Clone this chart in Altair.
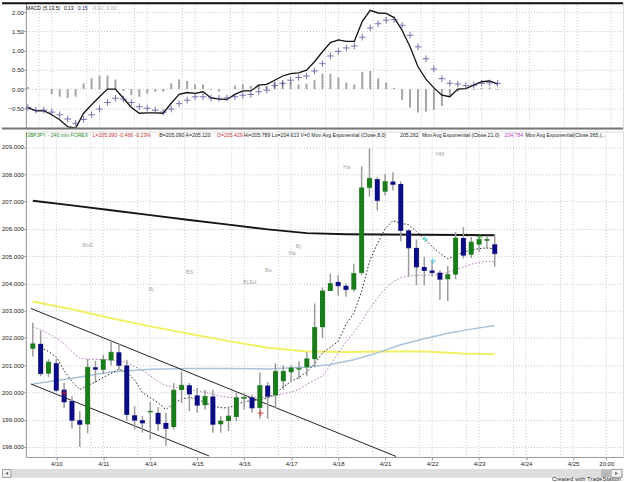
import altair as alt
import pandas as pd

FONT = "Liberation Sans"
GREEN = "#1c7c1c"
BLUE = "#0b0b82"

# ---------------- price bars (240 min, one entry per bar) ----------------
opens = [201.60, 201.78, 200.69, 201.07, 200.10, 199.68, 198.98, 198.83, 200.92, 200.83,
         201.17, 201.47, 200.99, 199.16, 198.98, 199.27, 199.25, 198.88, 198.73, 200.09,
         200.26, 199.89, 199.53, 199.85, 198.83, 198.95, 199.10, 199.77, 199.82, 199.43,
         200.25, 199.89, 200.41, 200.74, 200.84, 200.92, 201.22, 202.39, 203.72, 204.05,
         203.91, 203.77, 204.38, 207.50, 207.82, 207.36, 207.73, 207.64, 205.94, 205.30,
         204.60, 204.47, 204.39, 204.15, 204.32, 205.66, 205.05, 205.42, 205.56, 205.43]
highs = [202.55, 202.27, 201.22, 201.22, 200.34, 199.86, 199.31, 201.22, 201.16, 201.38,
         201.87, 201.78, 201.20, 199.49, 199.13, 199.65, 199.46, 199.25, 200.34, 200.77,
         200.34, 200.16, 200.10, 200.10, 199.13, 199.49, 199.98, 199.98, 199.92, 200.73,
         200.38, 201.07, 200.99, 200.99, 201.14, 201.47, 203.26, 203.85, 204.36, 204.30,
         203.99, 204.72, 208.29, 208.95, 207.89, 208.01, 208.07, 207.73, 205.98, 205.61,
         204.97, 204.81, 204.48, 204.64, 205.88, 206.06, 205.70, 205.73, 205.73, 205.79]
lows = [201.32, 200.59, 200.56, 200.00, 199.43, 198.68, 198.00, 198.50, 200.34, 200.67,
        200.99, 200.80, 198.97, 198.64, 198.52, 198.28, 198.58, 198.03, 198.64, 199.61,
        199.31, 199.25, 199.37, 198.52, 198.52, 198.58, 198.94, 199.37, 199.25, 199.04,
        199.03, 199.43, 200.10, 200.41, 200.50, 200.59, 200.92, 201.99, 203.72, 203.54,
        203.51, 203.69, 204.30, 207.18, 206.67, 207.22, 207.40, 205.54, 204.24, 203.93,
        203.93, 204.24, 203.39, 203.35, 204.15, 204.91, 204.93, 205.15, 205.25, 204.61]
closes = [201.78, 200.69, 201.11, 200.08, 199.65, 198.98, 198.83, 200.92, 200.85, 201.20,
          201.47, 200.99, 199.19, 198.98, 198.88, 199.31, 198.85, 198.68, 200.08, 200.26,
          199.94, 199.53, 199.85, 198.83, 198.95, 199.13, 199.80, 199.82, 199.43, 200.25,
          199.86, 200.77, 200.77, 200.89, 200.88, 201.23, 202.38, 203.72, 203.99, 203.91,
          203.77, 204.36, 207.50, 207.85, 207.04, 207.73, 207.63, 205.94, 205.30, 204.60,
          204.47, 204.39, 204.15, 204.32, 205.66, 205.03, 205.51, 205.61, 205.61, 205.09]

# Moving averages (read per bar)
ema8 = [None, 201.65, 201.5, 201.3, 200.8, 200.4, 200.1, 200.25, 200.38, 200.55,
        200.7, 200.85, 200.75, 200.45, 200.0, 199.8, 199.62, 199.37, 199.6, 199.75,
        199.82, 199.75, 199.63, 199.5, 199.44, 199.43, 199.55, 199.66, 199.70, 199.72,
        199.8, 199.95, 200.2, 200.41, 200.55, 200.75, 201.05, 201.45, 201.65, 201.87,
        202.5, 202.9, 203.7, 204.8, 205.45, 206.0, 206.3, 206.2, 206.15, 205.9,
        205.64, 205.35, 205.1, 204.9, 205.0, 205.15, 205.22, 205.27, 205.3, 205.26]
ema21 = [202.41, 202.3, 202.15, 202.0, 201.78, 201.5, 201.25, 201.22, 201.21, 201.2,
         201.2, 201.15, 201.1, 200.95, 200.8, 200.6, 200.4, 200.25, 200.2, 200.15,
         200.1, 200.05, 200.0, 199.93, 199.86, 199.82, 199.8, 199.8, 199.82, 199.82,
         199.82, 199.88, 199.95, 200.02, 200.12, 200.3, 200.45, 200.6, 201.0, 201.45,
         201.85, 202.2, 202.6, 203.05, 203.45, 203.8, 204.05, 204.2, 204.27, 204.3,
         204.3, 204.3, 204.33, 204.4, 204.5, 204.6, 204.7, 204.76, 204.8, 204.78]

long_idx = [0, 5, 10, 15, 20, 25, 30, 35, 40, 45, 50, 55, 59]
ma_black = [207.03, 206.86, 206.68, 206.5, 206.32, 206.15, 205.98, 205.84, 205.8, 205.79, 205.78, 205.77, 205.76]
ma_yellow = [203.33, 203.05, 202.72, 202.42, 202.15, 201.88, 201.64, 201.5, 201.48, 201.5, 201.5, 201.43, 201.4]
blue_idx = [0, 5, 10, 15, 20, 25, 30, 35, 38, 41, 44, 47, 50, 53, 56, 59]
ma_lightblue = [200.31, 200.52, 200.75, 200.85, 200.88, 200.88, 200.86, 200.93, 201.02, 201.2,
                201.45, 201.75, 201.97, 202.17, 202.32, 202.45]

# Channel trend lines
upper_idx = [-0.25, 46.4]
upper_px = [203.08, 197.65]
lower_idx = [-0.25, 22.5]
lower_px = [200.31, 197.67]

# MACD (5,13,5)
macd = [-0.485, -0.57, -0.56, -0.67, -0.80, -0.98, -1.02, -0.63, -0.41, -0.20,
        0.0, 0.0, -0.24, -0.48, -0.63, -0.62, -0.62, -0.63, -0.37, -0.14,
        -0.09, -0.11, -0.07, -0.23, -0.26, -0.27, -0.14, -0.05, -0.05, 0.10,
        0.12, 0.23, 0.34, 0.40, 0.42, 0.49, 0.71, 0.97, 1.21, 1.28,
        1.24, 1.24, 1.76, 2.05, 1.98, 1.97, 1.86, 1.53, 1.10, 0.58,
        0.26, 0.03, -0.16, -0.20, 0.0, 0.01, 0.10, 0.19, 0.21, 0.13]
signal = [-0.48, -0.55, -0.55, -0.60, -0.67, -0.78, -0.89, -0.79, -0.67, -0.52,
          -0.35, -0.24, -0.26, -0.35, -0.46, -0.50, -0.55, -0.60, -0.52, -0.38,
          -0.29, -0.20, -0.20, -0.23, -0.24, -0.23, -0.20, -0.16, -0.14, -0.07,
          -0.03, 0.09, 0.15, 0.23, 0.30, 0.34, 0.47, 0.66, 0.86, 0.98,
          1.07, 1.12, 1.35, 1.59, 1.70, 1.79, 1.81, 1.66, 1.40, 1.10,
          0.79, 0.52, 0.27, 0.15, 0.13, 0.09, 0.10, 0.15, 0.16, 0.15]
hist = [0.05, -0.01, 0.0, -0.13, -0.20, -0.23, -0.20, 0.15, 0.28, 0.35,
        0.35, 0.25, -0.05, -0.16, -0.20, -0.12, -0.07, -0.07, 0.15, 0.25,
        0.21, 0.12, 0.12, -0.02, -0.06, 0.0, 0.09, 0.12, 0.08, 0.12,
        0.08, 0.19, 0.20, 0.19, 0.12, 0.14, 0.23, 0.40, 0.40, 0.30,
        0.17, 0.12, 0.45, 0.47, 0.28, 0.17, 0.03, -0.28, -0.48, -0.61,
        -0.59, -0.54, -0.44, -0.20, -0.07, 0.0, -0.02, 0.03, 0.04, -0.02]

# Axis ticks
tick_idx = [3, 9, 15, 21, 27, 33, 39, 45, 51, 57, 63, 69, 73.25]
tick_labels = ["4/10", "4/11", "4/14", "4/15", "4/16", "4/17", "4/18", "4/21", "4/22",
               "4/23", "4/24", "4/25", "20:00"]
price_ticks = [198, 199, 200, 201, 202, 203, 204, 205, 206, 207, 208, 209]
macd_ticks = [-0.5, 0.0, 0.5, 1.0, 1.5, 2.0]

# News tags and markers on the price pane
tag_text = ["BoE", "Bj", "BS", "BLEd", "Bu", "Ha", "Bj", "Ha", "HM"]
tag_idx = [7, 15.1, 20, 27.7, 30.1, 33.1, 33.9, 40.1, 52]
tag_px = [205.40, 203.80, 204.42, 204.05, 204.49, 205.11, 205.37, 208.25, 208.73]
mark_idx = [4, 29.1, 50.1, 51.1, 57.1]
mark_px = [199.97, 199.24, 205.62, 204.82, 205.70]
mark_col = ["#d03030", "#d03030", "#40c8d8", "#40c8d8", "#30a030"]

# ---------------- data frames ----------------
n = len(closes)
bars = pd.DataFrame({"i": list(range(n)), "open": opens, "high": highs, "low": lows, "close": closes})
ema_df = pd.DataFrame({"i": list(range(n)), "ema8": ema8, "ema21": ema21})
long_df = pd.DataFrame({"i": long_idx, "black": ma_black, "yellow": ma_yellow})
lb_df = pd.DataFrame({"i": blue_idx, "v": ma_lightblue})
up_df = pd.DataFrame({"i": upper_idx, "p": upper_px})
lo_df = pd.DataFrame({"i": lower_idx, "p": lower_px})
macd_df = pd.DataFrame({"i": list(range(n)), "macd": macd, "signal": signal, "hist": hist, "zero": [0.0] * n})
grid_df = pd.DataFrame({"i": tick_idx + [t - 1.6 for t in tick_idx[:-1]]})
tag_df = pd.DataFrame({"i": tag_idx, "p": tag_px, "t": tag_text})
mk_df = pd.DataFrame({"i": mark_idx, "p": mark_px, "c": mark_col})
one = pd.DataFrame({"a": [0]})

label_expr = " : ".join(f"datum.value == {v} ? '{l}'" for v, l in zip(tick_idx, tick_labels)) + " : ''"

xs = alt.Scale(domain=[-0.25, 74.75], nice=False, zero=False)
x_axis_main = alt.Axis(values=tick_idx, labelExpr=label_expr, grid=False, title=None,
                       labelFontSize=6, labelFont=FONT, labelColor="#222", tickSize=3,
                       tickColor="#999", domainColor="#999", labelPadding=1, labelFlush=False)

AX = dict(title=None, labelFontSize=6.1, labelFont=FONT, labelColor="#222", tickSize=2,
          tickColor="#888", domainColor="#999", grid=True, gridDash=[1, 2], gridColor="#c4c4c4",
          labelPadding=0.5, minExtent=25, maxExtent=25)
ys_main = alt.Scale(domain=[197.632, 209.566], nice=False, zero=False)
y_axis_main = alt.Axis(values=price_ticks, format=".3f", **AX)
ys_macd = alt.Scale(domain=[-1.028, 2.262], nice=False, zero=False)
y_axis_macd = alt.Axis(values=macd_ticks, format=".2f", **AX)


def XM(f="i"):
    return alt.X(f"{f}:Q", scale=xs, axis=x_axis_main)


def XN(f="i"):
    return alt.X(f"{f}:Q", scale=xs, axis=None)


def YM(f):
    return alt.Y(f"{f}:Q", scale=ys_main, axis=y_axis_main)


def YC(f):
    return alt.Y(f"{f}:Q", scale=ys_macd, axis=y_axis_macd)


# ---------------- MACD pane ----------------
m_grid = alt.Chart(grid_df).mark_rule(color="#c8c8c8", strokeDash=[1, 2], strokeWidth=1).encode(x=XN())
m_hist = alt.Chart(macd_df).mark_rule(color="#a4a4a4", strokeWidth=2).encode(x=XN(), y=YC("zero"), y2="hist:Q")
m_line = alt.Chart(macd_df).mark_line(color="#111", strokeWidth=1.3, clip=True).encode(x=XN(), y=YC("macd"))
m_sig = alt.Chart(macd_df).mark_point(shape="M-1,0L1,0M0,-1L0,1", size=44, filled=False,
                                      strokeWidth=1, color="#3b3b8e", clip=True).encode(x=XN(), y=YC("signal"))
m_head_df = pd.DataFrame({"t": ["MACD (5,13,5)", "0.13", "0.15", "-0.02", "0.00"],
                          "px": [0, 38, 52, 66, 81],
                          "c": ["#111", "#111", "#22226e", "#aaaaaa", "#aaaaaa"]})
m_head = alt.Chart(m_head_df).mark_text(align="left", baseline="middle", fontSize=5.2, font=FONT).encode(
    x=alt.X("px:Q", scale=None), y=alt.value(6), text="t:N", color=alt.Color("c:N", scale=None))
m_top = alt.Chart(one).mark_rule(color="#111", strokeWidth=2).encode(
    x=alt.value(-24), x2=alt.value(600), y=alt.value(1))
m_sep = alt.Chart(one).mark_rule(color="#777", strokeWidth=2).encode(
    x=alt.value(-24), x2=alt.value(600), y=alt.value(127))

macd_chart = alt.layer(m_grid, m_hist, m_line, m_sig, m_head, m_top, m_sep).properties(width=600, height=127)

# ---------------- price pane ----------------
p_grid = alt.Chart(grid_df).mark_rule(color="#c8c8c8", strokeDash=[1, 2], strokeWidth=1).encode(x=XM())
p_black = alt.Chart(long_df).mark_line(color="#151515", strokeWidth=1.9).encode(x=XM(), y=YM("black"))
p_yellow = alt.Chart(long_df).mark_line(color="#f2f064", strokeWidth=2).encode(x=XM(), y=YM("yellow"))
p_lblue = alt.Chart(lb_df).mark_line(color="#a9c3da", strokeWidth=1.5).encode(x=XM(), y=YM("v"))
p_up = alt.Chart(up_df).mark_line(color="#222", strokeWidth=1, clip=True).encode(x=XM(), y=YM("p"))
p_lo = alt.Chart(lo_df).mark_line(color="#222", strokeWidth=1, clip=True).encode(x=XM(), y=YM("p"))
p_e21 = alt.Chart(ema_df).mark_line(color="#b070b8", strokeWidth=1, strokeDash=[1.5, 2]).encode(x=XM(), y=YM("ema21"))
p_e8 = alt.Chart(ema_df).mark_line(color="#222", strokeWidth=1, strokeDash=[1.5, 2]).encode(x=XM(), y=YM("ema8"))
candle_color = alt.condition("datum.close >= datum.open", alt.value(GREEN), alt.value(BLUE))
p_wick = alt.Chart(bars).mark_rule(color="#9c9c9c", strokeWidth=1.5).encode(x=XM(), y=YM("low"), y2="high:Q")
p_body = alt.Chart(bars).mark_bar(size=5).encode(x=XM(), y=YM("open"), y2="close:Q", color=candle_color)
p_tick = alt.Chart(bars).mark_tick(thickness=1, size=5, orient="horizontal").encode(x=XM(), y=YM("close"), color=candle_color)
p_tags = alt.Chart(tag_df).mark_text(fontSize=5.5, font=FONT, color="#a8a8a8").encode(x=XM(), y=YM("p"), text="t:N")
p_marks = alt.Chart(mk_df).mark_point(shape="M-1,0L1,0M0,-1L0,1", size=36, filled=False, strokeWidth=1.2).encode(
    x=XM(), y=YM("p"), color=alt.Color("c:N", scale=None))

head_df = pd.DataFrame({
    "t": ["GBPJPY - 240 min  FOREX", "L=205.090  -0.466  -0.23%", "B=205.090  A=205.120", "O=205.429",
          "Hi=205.789  Lo=204.613  V=0  Mov Avg Exponential (Close,8,0)", "205.262",
          "Mov Avg Exponential (Close,21,0)", "204.784", "Mov Avg Exponential(Close,365,(..."],
    "px": [0, 67, 134, 192, 219, 376, 398, 481, 502],
    "c": ["#2a8a2a", "#c03030", "#222", "#c03030", "#222", "#222", "#222", "#c040c0", "#222"],
})
p_head = alt.Chart(head_df).mark_text(align="left", baseline="middle", fontSize=5.2, font=FONT).encode(
    x=alt.X("px:Q", scale=None), y=alt.value(3), text="t:N", color=alt.Color("c:N", scale=None))

# scrollbar and footer
sb = alt.Chart(one).mark_rect(color="#dedede").encode(
    x=alt.value(-24), x2=alt.value(600), y=alt.value(339), y2=alt.value(348))
sb_l = alt.Chart(one).mark_rect(color="#f2f2f2", stroke="#888", strokeWidth=0.8).encode(
    x=alt.value(-23.5), x2=alt.value(-15), y=alt.value(339.5), y2=alt.value(347.5))
sb_t = alt.Chart(one).mark_rect(color="#b9b9b9").encode(
    x=alt.value(578), x2=alt.value(587), y=alt.value(339.5), y2=alt.value(347.5))
sb_r = alt.Chart(one).mark_rect(color="#f2f2f2", stroke="#888", strokeWidth=0.8).encode(
    x=alt.value(588), x2=alt.value(599), y=alt.value(339.5), y2=alt.value(347.5))
sb_la = alt.Chart(one).mark_point(shape="triangle-left", size=10, filled=True, color="#222").encode(
    x=alt.value(-19.2), y=alt.value(343.5))
sb_ra = alt.Chart(one).mark_point(shape="triangle-right", size=10, filled=True, color="#222").encode(
    x=alt.value(593.5), y=alt.value(343.5))
footer = alt.Chart(one).mark_text(align="right", baseline="bottom", fontSize=6, font=FONT, color="#222").encode(
    x=alt.value(598), y=alt.value(352), text=alt.value("Created with TradeStation"))

price_chart = alt.layer(p_grid, p_yellow, p_lblue, p_black, p_up, p_lo, p_e21, p_e8, p_wick, p_body, p_tick,
                        p_tags, p_marks, p_head, sb, sb_l, sb_t, sb_r, sb_la, sb_ra, footer
                        ).properties(width=600, height=327)

chart = alt.vconcat(macd_chart, price_chart, spacing=0).properties(
    padding={"left": 0, "top": 0, "right": 0, "bottom": 0}, background="white"
).configure_view(stroke=None).configure(font=FONT)

chart.save("out.html", embed_options={"renderer": "svg", "actions": False})
